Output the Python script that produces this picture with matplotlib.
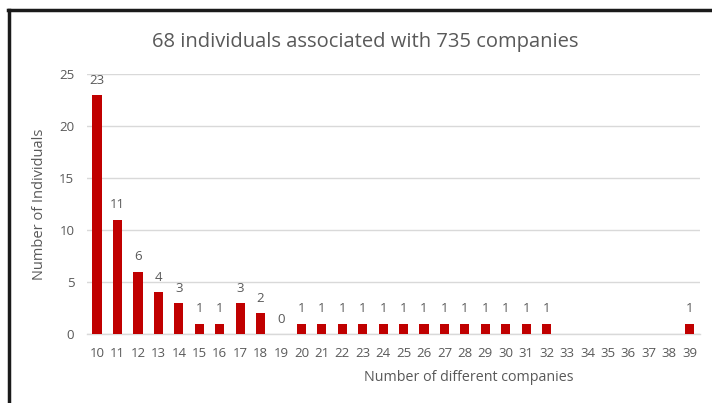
import matplotlib.pyplot as plt
import numpy as np
from matplotlib.lines import Line2D

plt.rcParams['font.family'] = ['Open Sans', 'DejaVu Sans']

# Data
companies = list(range(10, 40))
individuals = [23, 11, 6, 4, 3, 1, 1, 3, 2, 0,
               1, 1, 1, 1, 1, 1, 1, 1, 1, 1,
               1, 1, 1, np.nan, np.nan, np.nan, np.nan, np.nan, np.nan, 1]

bar_color = '#c00000'
text_gray = '#595959'
grid_gray = '#d9d9d9'

fig = plt.figure(figsize=(7.12, 4.03), dpi=100)
ax = fig.add_axes([0.122, 0.171, 0.861, 0.645])

x = np.arange(len(companies))
vals = np.array(individuals, dtype=float)
ax.bar(x, np.nan_to_num(vals), width=0.45, color=bar_color, zorder=3)

for xi, v in zip(x, vals):
    if not np.isnan(v):
        ax.annotate(f'{int(v)}', xy=(xi, v), xytext=(0, 6), textcoords='offset points',
                    ha='center', va='bottom', fontsize=9.5, color=text_gray)

ax.set_xlim(-0.5, len(companies) - 0.5)
ax.set_ylim(0, 25)
ax.set_yticks([0, 5, 10, 15, 20, 25])
ax.set_xticks(x)
ax.set_xticklabels([str(c) for c in companies])
ax.tick_params(axis='both', length=0, labelsize=9.5, labelcolor=text_gray)
ax.tick_params(axis='x', pad=9)
ax.tick_params(axis='y', pad=9)
ax.grid(axis='y', color=grid_gray, linewidth=1, zorder=0)
for s in ['top', 'right', 'left']:
    ax.spines[s].set_visible(False)
ax.spines['bottom'].set_color(grid_gray)
ax.spines['bottom'].set_linewidth(1)

ax.set_ylabel('Number of Individuals', fontsize=10.5, color=text_gray, labelpad=9)
ax.set_xlabel('Number of different companies', fontsize=10.3, color=text_gray)
ax.xaxis.set_label_coords(0.623, -0.14)

fig.text(0.513, 0.895, '68 individuals associated with 735 companies',
         ha='center', va='center', fontsize=14.5, color=text_gray)

# screenshot frame
fig.add_artist(Line2D([0.013, 0.013], [0, 0.975], color='#1a1a1a', linewidth=2.5, transform=fig.transFigure))
fig.add_artist(Line2D([0.011, 1.0], [0.975, 0.975], color='#1a1a1a', linewidth=2.5, transform=fig.transFigure))

fig.savefig('out.png', dpi=100)
